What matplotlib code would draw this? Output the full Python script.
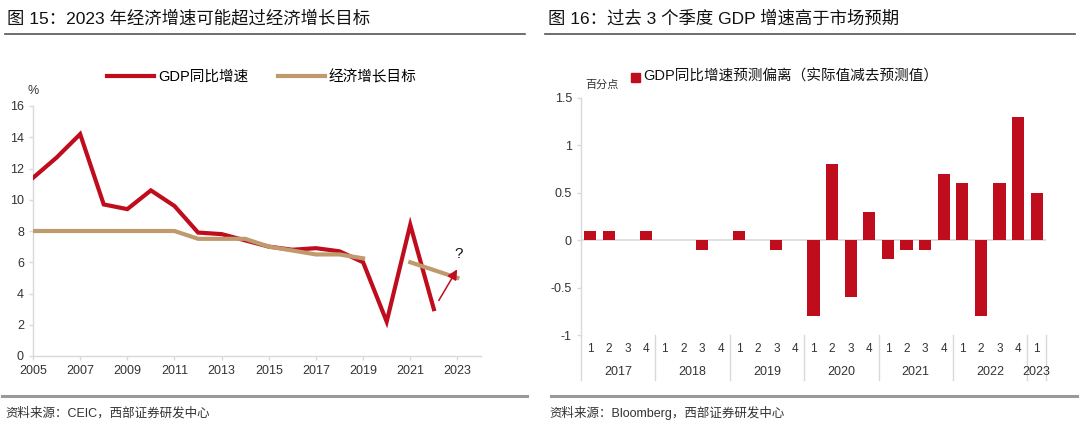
"""
图15 / 图16 复刻
"""

import matplotlib
matplotlib.use('Agg')
import matplotlib.pyplot as plt
from matplotlib.lines import Line2D
from matplotlib.patches import Rectangle

plt.rcParams['font.family'] = ['Liberation Sans', 'Noto Sans CJK SC', 'DejaVu Sans']
plt.rcParams['axes.unicode_minus'] = False

# 左图数据
years = list(range(2005, 2023))
gdp_growth = [11.4, 12.7, 14.2, 9.7, 9.4, 10.6, 9.6, 7.9, 7.8, 7.4, 7.0, 6.8, 6.9, 6.7, 6.0, 2.2, 8.4, 3.0]
target_years_a = list(range(2005, 2020))
target_a = [8, 8, 8, 8, 8, 8, 8, 7.5, 7.5, 7.5, 7.0, 6.75, 6.5, 6.5, 6.25]
target_years_b = [2021, 2022, 2023]
target_b = [6.0, 5.5, 5.0]

# 右图数据
quarters = ['1', '2', '3', '4'] * 6 + ['1']
quarter_years = ['2017', '2018', '2019', '2020', '2021', '2022', '2023']
surprise = [0.1, 0.1, 0.0, 0.1,
            0.0, 0.0, -0.1, 0.0,
            0.1, 0.0, -0.1, 0.0,
            -0.8, 0.8, -0.6, 0.3,
            -0.2, -0.1, -0.1, 0.7,
            0.6, -0.8, 0.6, 1.3,
            0.5]

RED = '#C00D1E'
TAN = '#BF9A6D'
GRID = '#D9D9D9'
TXT = '#333333'

fig = plt.figure(figsize=(10.8, 4.29), dpi=100)
W, H = 1080, 429


def fx(px):
    return px / W


def fy(py):
    return 1 - py / H


# 标题与分隔线
fig.text(fx(7), fy(18), '图 15：2023 年经济增速可能超过经济增长目标', fontsize=12.5,
         color='#111111', va='center', ha='left')
fig.text(fx(548), fy(18), '图 16：过去 3 个季度 GDP 增速高于市场预期', fontsize=12.5,
         color='#111111', va='center', ha='left')
for x0, x1 in [(5, 525), (545, 1075)]:
    fig.add_artist(Line2D([fx(x0), fx(x1)], [fy(34), fy(34)], color='#555555', lw=1.2))
for x0, x1 in [(2, 527), (551, 1077)]:
    fig.add_artist(Line2D([fx(x0), fx(x1)], [fy(396), fy(396)], color='#999999', lw=2.2))
fig.text(fx(5), fy(413), '资料来源：CEIC，西部证券研发中心', fontsize=9, color=TXT, va='center')
fig.text(fx(549), fy(413), '资料来源：Bloomberg，西部证券研发中心', fontsize=9, color=TXT, va='center')

# ---------------- 左图 ----------------
ax1 = fig.add_axes([fx(33), fy(356), fx(448), 250 / H])
ax1.plot(years, gdp_growth, color=RED, lw=3, solid_joinstyle='miter', label='GDP同比增速', zorder=3)
ax1.plot(target_years_a, target_a, color=TAN, lw=3, label='经济增长目标', zorder=4)
ax1.plot(target_years_b, target_b, color=TAN, lw=3, zorder=4)
ax1.annotate('', xy=(2023.05, 5.7), xytext=(2022.15, 3.4),
             arrowprops=dict(arrowstyle='-|>', color=RED, lw=1.1, mutation_scale=15), zorder=5)
ax1.text(2023.05, 6.5, '?', fontsize=11, color='#111111', ha='center', va='center')
ax1.set_xlim(2005, 2024)
ax1.set_ylim(0, 16)
ax1.set_xticks(range(2005, 2024, 2))
ax1.set_yticks(range(0, 17, 2))
for s in ['top', 'right']:
    ax1.spines[s].set_visible(False)
for s in ['left', 'bottom']:
    ax1.spines[s].set_color(GRID)
    ax1.spines[s].set_linewidth(1)
ax1.tick_params(colors=GRID, labelcolor=TXT, labelsize=9, length=3, width=1)
ax1.text(0, 1.05, '%', transform=ax1.transAxes, fontsize=9, color=TXT, ha='center')
ax1.legend(loc='center', bbox_to_anchor=(fx(262), fy(77)), bbox_transform=fig.transFigure,
           ncol=2, frameon=False, fontsize=10.5, handlelength=3.2, columnspacing=2.0,
           handletextpad=0.3)

# ---------------- 右图 ----------------
ax2 = fig.add_axes([fx(581), fy(335), fx(465), 237 / H])
idx = list(range(len(surprise)))
ax2.bar(idx, surprise, width=0.65, color=RED, zorder=3)
ax2.axhline(0, color=GRID, lw=1.2, zorder=2)
ax2.set_xlim(-0.5, len(surprise) - 0.5)
ax2.set_ylim(-1, 1.5)
ax2.set_yticks([-1, -0.5, 0, 0.5, 1, 1.5])
ax2.set_yticklabels(['-1', '-0.5', '0', '0.5', '1', '1.5'])
ax2.set_xticks([])
for s in ['top', 'right', 'bottom', 'left']:
    ax2.spines[s].set_visible(False)
ax2.tick_params(axis='y', colors=GRID, labelcolor=TXT, labelsize=9, length=3, width=1)

# 延长的左轴线与双层类别轴
trans = ax2.get_xaxis_transform()
ax2.add_line(Line2D([-0.5, -0.5], [1.5, -1], color=GRID, lw=1, clip_on=False))
for i, q in enumerate(quarters):
    ax2.text(i, -0.06, q, transform=trans, fontsize=8.5, color=TXT, ha='center', va='center')
for k, yr in enumerate(quarter_years):
    start = k * 4
    end = min(start + 3, len(surprise) - 1)
    ax2.text((start + end) / 2, -0.155, yr, transform=trans, fontsize=9, color=TXT,
             ha='center', va='center')
    ax2.add_line(Line2D([end + 0.5, end + 0.5], [0, -0.19], transform=trans, color=GRID,
                        lw=1, clip_on=False))
ax2.add_line(Line2D([-0.5, -0.5], [0, -0.19], transform=trans, color=GRID, lw=1, clip_on=False))

fig.text(fx(585), fy(85), '百分点', fontsize=8, color=TXT, ha='left', va='center')
fig.add_artist(Rectangle((fx(631), fy(82)), fx(9), 9 / H, color=RED, transform=fig.transFigure))
fig.text(fx(643), fy(77), 'GDP同比增速预测偏离（实际值减去预测值）', fontsize=10.5,
         color='#111111', ha='left', va='center')

plt.savefig('out.png', dpi=100)
